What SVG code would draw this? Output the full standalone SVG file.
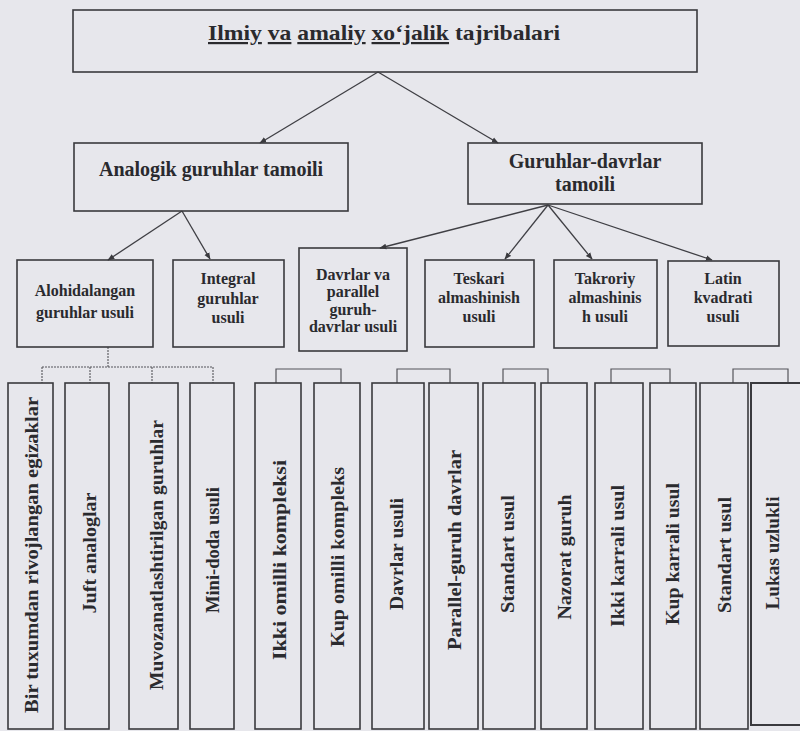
<svg xmlns="http://www.w3.org/2000/svg" width="800" height="731" viewBox="0 0 800 731">
<style>
.box{fill:none;stroke:#3a3a3e;stroke-width:1.6}
.t{font-family:"Liberation Serif","Times New Roman",serif;font-weight:bold;fill:#2a2a2e;text-anchor:middle}
.t1{font-size:22px}
.t2{font-size:20px}
.t3{font-size:16px}
.t4{font-size:19px}
.ln{fill:none;stroke:#3f3f44;stroke-width:1.3}
.br{fill:none;stroke:#55555a;stroke-width:1.2}
.dot{fill:none;stroke:#55555a;stroke-width:1.1;stroke-dasharray:2 1}
</style>
<defs>
<marker id="arr" viewBox="0 0 10 10" refX="9" refY="5" markerWidth="7" markerHeight="7" markerUnits="userSpaceOnUse" orient="auto">
<path d="M0,1 L10,5 L0,9 z" fill="#3a3a3e"/>
</marker>
</defs>
<rect x="0" y="0" width="800" height="731" fill="#e7e7ec"/>

<g id="connectors">
<line class="ln" x1="378" y1="72" x2="260" y2="143" marker-end="url(#arr)"/>
<line class="ln" x1="378" y1="72" x2="498" y2="143" marker-end="url(#arr)"/>
<line class="ln" x1="182" y1="211" x2="108" y2="260" marker-end="url(#arr)"/>
<line class="ln" x1="182" y1="211" x2="210" y2="259" marker-end="url(#arr)"/>
<line class="ln" x1="548" y1="205" x2="380" y2="248" marker-end="url(#arr)"/>
<line class="ln" x1="548" y1="205" x2="505" y2="259" marker-end="url(#arr)"/>
<line class="ln" x1="548" y1="205" x2="592" y2="259" marker-end="url(#arr)"/>
<line class="ln" x1="548" y1="205" x2="712" y2="260" marker-end="url(#arr)"/>
<path class="dot" d="M108,347 V367 M42,367 H213 M42,367 V383 M90,367 V383 M152,367 V383 M213,367 V383"/>
<path class="br" d="M276,383 V369 H341 V383"/>
<path class="br" d="M397,383 V369 H450 V383"/>
<path class="br" d="M503,383 V369 H548 V383"/>
<path class="br" d="M611,383 V369 H670 V383"/>
<path class="br" d="M733,383 V369 H788 V383"/>
</g>

<g id="n-root">
<rect class="box" x="73" y="10" width="624" height="62"/>
<text class="t t1" x="384" y="40" textLength="352" lengthAdjust="spacingAndGlyphs"><tspan text-decoration="underline">Ilmiy</tspan> <tspan text-decoration="underline">va</tspan> <tspan text-decoration="underline">amaliy</tspan> <tspan text-decoration="underline">xo‘jalik</tspan> tajribalari</text>
</g>

<g id="n-analogik">
<rect class="box" x="74" y="143" width="274" height="68"/>
<text class="t t2" x="211" y="176">Analogik guruhlar tamoili</text>
</g>

<g id="n-guruhlar">
<rect class="box" x="468" y="143" width="234" height="61"/>
<text class="t t2" x="585" y="168">Guruhlar-davrlar</text>
<text class="t t2" x="585" y="191">tamoili</text>
</g>

<g id="n-alohidalangan">
<rect class="box" x="17" y="260" width="136" height="87"/>
<text class="t t3" x="85" y="296">Alohidalangan</text>
<text class="t t3" x="85" y="318">guruhlar usuli</text>
</g>

<g id="n-integral">
<rect class="box" x="173" y="260" width="111" height="87"/>
<text class="t t3" x="228" y="284">Integral</text>
<text class="t t3" x="228" y="304">guruhlar</text>
<text class="t t3" x="228" y="323">usuli</text>
</g>

<g id="n-davrlar-parallel">
<rect class="box" x="299" y="248" width="108" height="103"/>
<text class="t t3" x="353" y="280">Davrlar va</text>
<text class="t t3" x="353" y="297">parallel</text>
<text class="t t3" x="353" y="315">guruh-</text>
<text class="t t3" x="353" y="332">davrlar usuli</text>
</g>

<g id="n-teskari">
<rect class="box" x="425" y="260" width="109" height="87"/>
<text class="t t3" x="479" y="284">Teskari</text>
<text class="t t3" x="479" y="303">almashinish</text>
<text class="t t3" x="479" y="322">usuli</text>
</g>

<g id="n-takroriy">
<rect class="box" x="554" y="260" width="103" height="88"/>
<text class="t t3" x="605" y="284">Takroriy</text>
<text class="t t3" x="605" y="303">almashinis</text>
<text class="t t3" x="605" y="322">h usuli</text>
</g>

<g id="n-latin">
<rect class="box" x="668" y="261" width="111" height="85"/>
<text class="t t3" x="723" y="284">Latin</text>
<text class="t t3" x="723" y="303">kvadrati</text>
<text class="t t3" x="723" y="322">usuli</text>
</g>

<g id="n-b1">
<rect class="box" x="8" y="383" width="45" height="346"/>
<text class="t t4" transform="translate(38,555) rotate(-90)" textLength="316" lengthAdjust="spacingAndGlyphs">Bir tuxumdan rivojlangan egizaklar</text>
</g>
<g id="n-b2">
<rect class="box" x="65" y="383" width="44" height="346"/>
<text class="t t4" transform="translate(96,553) rotate(-90)" textLength="121" lengthAdjust="spacingAndGlyphs">Juft analoglar</text>
</g>
<g id="n-b3">
<rect class="box" x="129" y="383" width="49" height="346"/>
<text class="t t4" transform="translate(163,555) rotate(-90)" textLength="270" lengthAdjust="spacingAndGlyphs">Muvozanatlashtirilgan guruhlar</text>
</g>
<g id="n-b4">
<rect class="box" x="190" y="383" width="44" height="346"/>
<text class="t t4" transform="translate(219,550) rotate(-90)" textLength="126" lengthAdjust="spacingAndGlyphs">Mini-doda usuli</text>
</g>
<g id="n-b5">
<rect class="box" x="255" y="383" width="46" height="346"/>
<text class="t t4" transform="translate(286,560) rotate(-90)" textLength="200" lengthAdjust="spacingAndGlyphs">Ikki omilli kompleksi</text>
</g>
<g id="n-b6">
<rect class="box" x="314" y="383" width="46" height="346"/>
<text class="t t4" transform="translate(344,557) rotate(-90)" textLength="180" lengthAdjust="spacingAndGlyphs">Kup omilli kompleks</text>
</g>
<g id="n-b7">
<rect class="box" x="372" y="383" width="52" height="346"/>
<text class="t t4" transform="translate(403,554) rotate(-90)" textLength="112" lengthAdjust="spacingAndGlyphs">Davrlar usuli</text>
</g>
<g id="n-b8">
<rect class="box" x="429" y="383" width="49" height="346"/>
<text class="t t4" transform="translate(461,550) rotate(-90)" textLength="200" lengthAdjust="spacingAndGlyphs">Parallel-guruh davrlar</text>
</g>
<g id="n-b9">
<rect class="box" x="483" y="383" width="52" height="346"/>
<text class="t t4" transform="translate(514,554) rotate(-90)" textLength="118" lengthAdjust="spacingAndGlyphs">Standart usul</text>
</g>
<g id="n-b10">
<rect class="box" x="541" y="383" width="46" height="346"/>
<text class="t t4" transform="translate(571,557) rotate(-90)" textLength="125" lengthAdjust="spacingAndGlyphs">Nazorat guruh</text>
</g>
<g id="n-b11">
<rect class="box" x="595" y="383" width="48" height="346"/>
<text class="t t4" transform="translate(624,556) rotate(-90)" textLength="142" lengthAdjust="spacingAndGlyphs">Ikki karrali usul</text>
</g>
<g id="n-b12">
<rect class="box" x="650" y="383" width="46" height="346"/>
<text class="t t4" transform="translate(679,554) rotate(-90)" textLength="142" lengthAdjust="spacingAndGlyphs">Kup karrali usul</text>
</g>
<g id="n-b13">
<rect class="box" x="700" y="383" width="48" height="346"/>
<text class="t t4" transform="translate(731,555) rotate(-90)" textLength="116" lengthAdjust="spacingAndGlyphs">Standart usul</text>
</g>
<g id="n-b14">
<path class="box" d="M810,383 H751 V725 H810" style="stroke-width:2"/>
<text class="t t4" transform="translate(779,553) rotate(-90)" textLength="113" lengthAdjust="spacingAndGlyphs">Lukas uzlukli</text>
</g>
</svg>
